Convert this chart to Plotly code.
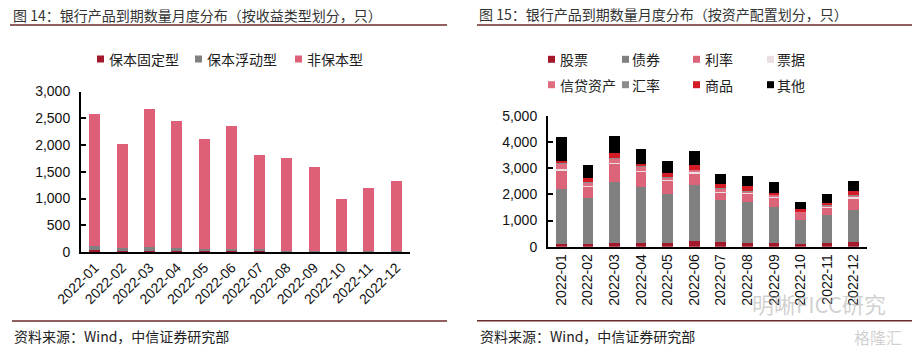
import plotly.graph_objects as go

W, H = 920, 348

# ---------------- data ----------------
months = ["2022-01", "2022-02", "2022-03", "2022-04", "2022-05", "2022-06",
          "2022-07", "2022-08", "2022-09", "2022-10", "2022-11", "2022-12"]

# Figure 14: by income type
fixed_guar = [30, 20, 20, 15, 15, 15, 10, 5, 5, 5, 5, 5]            # 保本固定型
float_guar = [90, 60, 70, 60, 50, 50, 40, 20, 15, 10, 10, 10]       # 保本浮动型
non_guar = [2465, 1940, 2590, 2380, 2040, 2290, 1755, 1730, 1565, 985, 1175, 1305]  # 非保本型

# Figure 15: by asset allocation
stock = [120, 110, 140, 140, 130, 200, 190, 150, 150, 120, 130, 170]        # 股票
bond = [2100, 1730, 2340, 2130, 1900, 2150, 1590, 1560, 1370, 910, 1080, 1240]  # 债券
rate = [710, 460, 700, 600, 500, 470, 300, 350, 380, 280, 280, 450]         # 利率
bill = [25, 20, 20, 20, 20, 20, 20, 20, 20, 15, 15, 20]                     # 票据
credit = [220, 150, 170, 170, 110, 100, 120, 50, 70, 30, 80, 100]           # 信贷资产
fx = [5, 5, 5, 5, 5, 5, 5, 5, 5, 5, 5, 5]                                   # 汇率
commodity = [100, 130, 190, 100, 130, 190, 150, 180, 60, 65, 90, 130]       # 商品
other = [910, 500, 670, 560, 470, 510, 390, 380, 400, 300, 330, 400]        # 其他

left_series = [("保本固定型", fixed_guar, "#a3192b"),
               ("保本浮动型", float_guar, "#808080"),
               ("非保本型", non_guar, "#de5f78")]
right_series = [("股票", stock, "#a3192b"),
                ("债券", bond, "#808080"),
                ("利率", rate, "#dc6478"),
                ("票据", bill, "#ecdfe1"),
                ("信贷资产", credit, "#e06c80"),
                ("汇率", fx, "#8c8c8c"),
                ("商品", commodity, "#d41c26"),
                ("其他", other, "#000000")]

FONT = "Liberation Sans, Arial, Noto Sans CJK SC, sans-serif"
CJK = "Noto Sans CJK SC, Liberation Sans, sans-serif"


def px(x):
    return x / W


def py(y):
    return 1 - y / H


fig = go.Figure()
for name, vals, col in left_series:
    fig.add_trace(go.Bar(x=months, y=vals, name=name, marker_color=col,
                         marker_line_width=0, width=0.4,
                         xaxis="x", yaxis="y", showlegend=False))
for name, vals, col in right_series:
    fig.add_trace(go.Bar(x=months, y=vals, name=name, marker_color=col,
                         marker_line_width=0, width=0.4,
                         xaxis="x2", yaxis="y2", showlegend=False))

axis_common = dict(showline=True, linecolor="black", linewidth=2,
                   showgrid=False, zeroline=False, automargin=False,
                   tickfont=dict(family=FONT, size=14, color="#111"))

fig.update_layout(
    width=W, height=H, margin=dict(l=0, r=0, t=0, b=0, autoexpand=False),
    paper_bgcolor="white", plot_bgcolor="white",
    barmode="stack", bargap=0.6, showlegend=False,
    xaxis=dict(domain=[px(81), px(410)], anchor="y", ticks="", type="category",
               tickangle=-45, **axis_common),
    yaxis=dict(domain=[py(252), py(91.5)], anchor="x", range=[0, 3000],
               dtick=500, tickformat=",", ticks="inside", ticklen=5,
               tickcolor="black", tickwidth=1.5, ticklabelstandoff=6,
               **axis_common),
    xaxis2=dict(domain=[px(548), px(867)], anchor="y2", ticks="", type="category",
                tickangle=-90, **axis_common),
    yaxis2=dict(domain=[py(246.7), py(115.7)], anchor="x2", range=[0, 5000],
                dtick=1000, tickformat=",", ticks="inside", ticklen=5,
                tickcolor="black", tickwidth=1.5, ticklabelstandoff=6,
                **axis_common),
)

shapes = []
annots = []


def text(x, y, s, size=14, color="#222", family=CJK, anchor="left"):
    annots.append(dict(x=px(x), y=py(y), xref="paper", yref="paper", text=s,
                       showarrow=False, xanchor=anchor, yanchor="middle",
                       font=dict(family=family, size=size, color=color)))


def hline(x0, x1, y, color="#6b2a2a", w=1.5):
    shapes.append(dict(type="line", xref="paper", yref="paper",
                       x0=px(x0), x1=px(x1), y0=py(y), y1=py(y),
                       line=dict(color=color, width=w)))


def square(x, y, color, s=7):
    shapes.append(dict(type="rect", xref="paper", yref="paper",
                       x0=px(x), x1=px(x + s), y0=py(y - s / 2), y1=py(y + s / 2),
                       fillcolor=color, line=dict(width=0)))


# titles
text(11, 15, "图 14：银行产品到期数量月度分布（按收益类型划分，只）", color="#333")
text(477, 14, "图 15：银行产品到期数量月度分布（按资产配置划分，只）", color="#333")
hline(10, 447, 25)
hline(477, 912, 25)

# sources
hline(12, 447, 321)
hline(477, 912, 320.7)
text(12, 336, "资料来源：Wind，中信证券研究部", color="#222")
text(478, 336, "资料来源：Wind，中信证券研究部", color="#222")

# left legend
for (sx, (name, _, col)) in zip([97, 195, 295], left_series):
    square(sx, 59, col)
    text(sx + 10, 59, name)

# right legend (two rows)
rx = [548, 622, 693, 767]
rtx = [558, 630, 703, 775]
for i, (name, _, col) in enumerate(right_series):
    row, c = divmod(i, 4)
    yy = 59.3 if row == 0 else 84.7
    square(rx[c], yy, col)
    text(rtx[c], yy, name)

# watermark
text(750, 303, "明晰FICC研究", size=22, color="rgba(170,170,170,0.55)")
text(852, 337, "格隆汇", size=16, color="rgba(170,170,170,0.55)")

fig.update_layout(shapes=shapes, annotations=annots)
fig.write_html("out.html")
